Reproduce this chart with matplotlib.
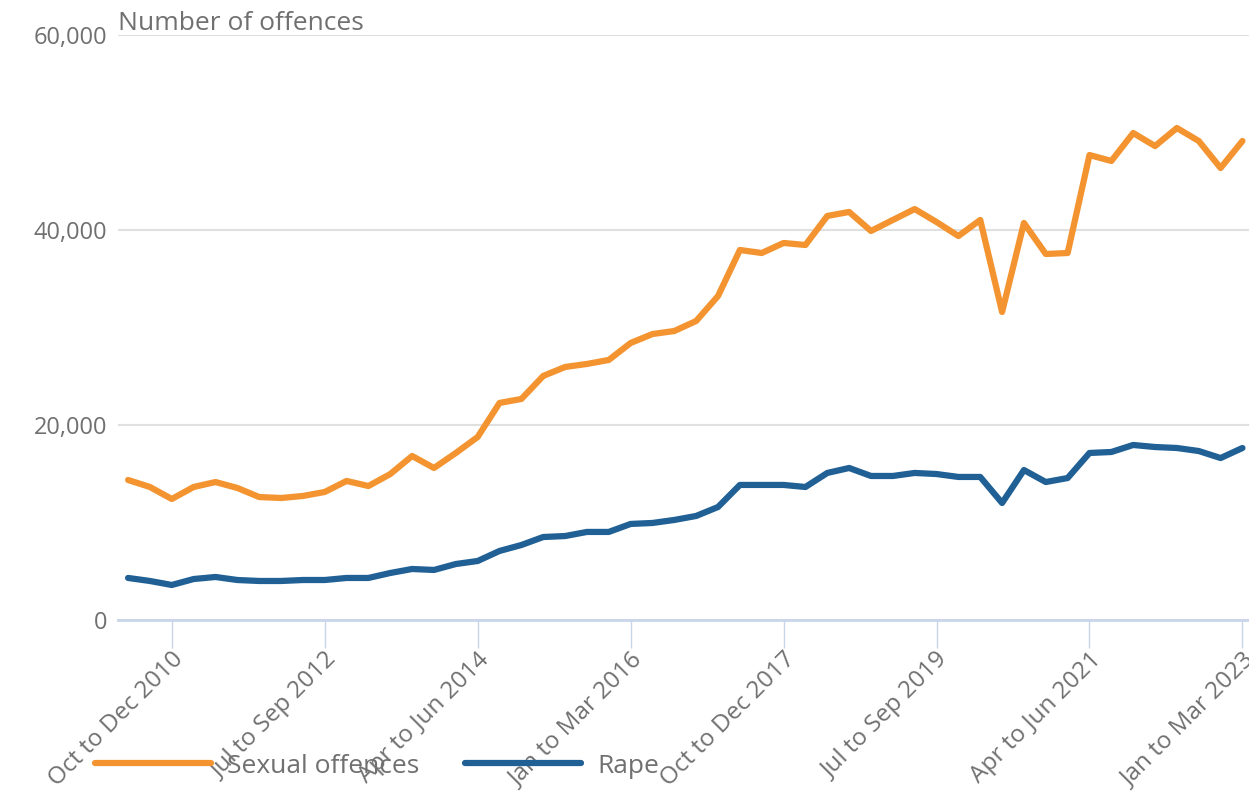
import matplotlib
matplotlib.use('Agg')
import matplotlib.pyplot as plt
from matplotlib.ticker import FuncFormatter
import numpy as np

plt.rcParams.update({
    'font.family': ['Open Sans', 'DejaVu Sans'],
})

# quarterly periods, Apr to Jun 2010 .. Jan to Mar 2023
quarters = ['Jan to Mar', 'Apr to Jun', 'Jul to Sep', 'Oct to Dec']
periods = []
for k in range(52):
    q = (1 + k) % 4
    year = 2010 + (1 + k) // 4
    periods.append(f'{quarters[q]} {year}')

sexual_offences = [
    14360, 13640, 12410, 13640, 14150, 13540, 12610, 12510, 12720, 13130,
    14260, 13740, 14970, 16820, 15590, 17130, 18770, 22260, 22670, 25030,
    25950, 26260, 26670, 28410, 29330, 29640, 30670, 33230, 37950, 37640,
    38670, 38460, 41440, 41850, 39900, 41030, 42150, 40820, 39380, 41030,
    31590, 40720, 37540, 37640, 47690, 47080, 49950, 48610, 50460, 49130,
    46360, 49130,
]
rape = [
    4310, 4000, 3590, 4200, 4410, 4100, 4000, 4000, 4100, 4100,
    4310, 4310, 4820, 5230, 5130, 5740, 6050, 7080, 7690, 8510,
    8610, 9030, 9030, 9850, 9950, 10260, 10670, 11590, 13850, 13850,
    13850, 13640, 15080, 15590, 14770, 14770, 15080, 14970, 14670, 14670,
    12000, 15380, 14150, 14560, 17130, 17230, 17950, 17740, 17640, 17330,
    16610, 17640,
]
tick_labels = ['Oct to Dec 2010', 'Jul to Sep 2012', 'Apr to Jun 2014',
               'Jan to Mar 2016', 'Oct to Dec 2017', 'Jul to Sep 2019',
               'Apr to Jun 2021', 'Jan to Mar 2023']

c_orange = '#f39431'
c_blue = '#206095'
c_text = '#707070'

fig = plt.figure(figsize=(12.49, 7.92), dpi=100)
ax = fig.add_axes([0.0945, 0.2172, 0.9055, 0.7386])

x = np.arange(len(periods))
ax.plot(x, sexual_offences, color=c_orange, lw=4.5, label='Sexual offences',
        solid_joinstyle='round', solid_capstyle='round')
ax.plot(x, rape, color=c_blue, lw=4.5, label='Rape',
        solid_joinstyle='round', solid_capstyle='round')

ax.set_xlim(-0.46, 51.3)
ax.set_ylim(0, 60000)
ax.set_yticks([0, 20000, 40000, 60000])
ax.yaxis.set_major_formatter(FuncFormatter(lambda v, p: f'{int(v):,}'))
ax.grid(axis='y', color='#e0e0e0', lw=1.5)
ax.set_axisbelow(True)

tick_pos = [periods.index(t) for t in tick_labels]
ax.set_xticks(tick_pos)
ax.set_xticklabels(tick_labels, rotation=45, ha='right', rotation_mode='anchor')

for s in ['top', 'right', 'left']:
    ax.spines[s].set_visible(False)
ax.spines['bottom'].set_color('#c9d5ea')
ax.spines['bottom'].set_linewidth(2)

ax.tick_params(axis='x', length=20, width=1, color='#c9d5ea', labelsize=17.5,
               labelcolor=c_text, pad=0)
ax.tick_params(axis='y', length=0, labelsize=17, labelcolor=c_text, pad=8)

ax.text(0.0, 0.999, 'Number of offences', transform=ax.transAxes,
        fontsize=19, color=c_text, ha='left', va='bottom')

fig.legend(loc='lower left', bbox_to_anchor=(0.057, -0.013), ncol=2, frameon=False,
           fontsize=19, handlelength=4.4, columnspacing=1.75, handletextpad=0.6,
           labelcolor=c_text)

fig.savefig('out.png', dpi=100)
